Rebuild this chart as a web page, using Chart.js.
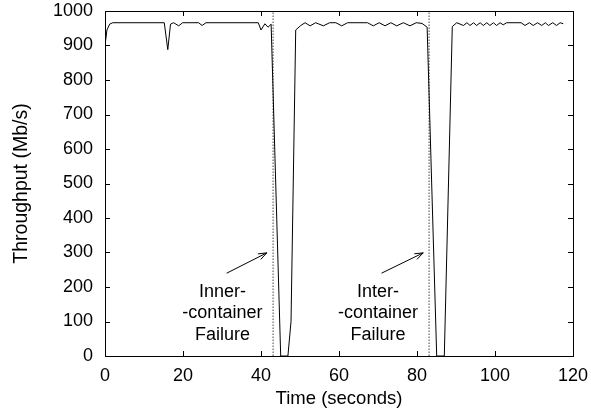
<!DOCTYPE html>
<html>
<head>
<meta charset="utf-8">
<script src="https://cdn.jsdelivr.net/npm/chart.js@4.4.0/dist/chart.umd.min.js"></script>
<style>
html,body{margin:0;padding:0;background:#fff;}
canvas{display:block;}
</style>
</head>
<body>
<canvas id="c" width="591" height="416"></canvas>
<script>
// ---- data ----
const timeSec = [0,0.5,1.2,2,15.2,16.1,16.8,17.6,18.9,19.9,24,24.9,25.9,39.3,40.0,41.0,41.8,42.6,45.05,
  46.9,47.7,48.9,50.2,51.3,52.6,54,56,57.6,59.2,60.7,62.2,67.3,68.8,70.3,71.8,73.3,74.8,76.5,78.2,79.8,81.3,82.6,85.05,
  87,89.05,90.2,91.9,92.8,93.6,94.5,95.3,96.2,97,97.9,98.7,99.6,100.4,101.3,102.1,103,106.7,107.7,108.8,109.8,110.9,112,112.9,113.7,114.8,115.8,116.7,117.5];
const throughput = [900,945,962,966,966,888,962,966,957,966,966,958,966,966,945,963,953,962,0,
  0,100,945,958,966,957,966,957,966,966,957,966,966,957,966,957,966,957,966,957,966,964,953,0,
  0,955,966,958,966,958,966,958,966,958,966,958,966,958,966,960,966,966,958,966,958,966,958,966,958,966,958,966,963];
const failureTimes = [43.1, 83.1];
const xTicks = [0,20,40,60,80,100,120];
const yTicks = [0,100,200,300,400,500,600,700,800,900,1000];
const annotations = [
  {lines:["Inner-","-container","Failure"], x:30.1, arrowFrom:[31.2,240], arrowTo:[41.5,299]},
  {lines:["Inter-","-container","Failure"], x:70.0, arrowFrom:[70.9,240], arrowTo:[81.6,299]}
];
const lineValues = [171,109,46];

const FONT = '"Liberation Sans", Arial, sans-serif';
const FS = 18;

const framePlugin = {
  id:'frame',
  afterDraw(chart){
    const ctx = chart.ctx, a = chart.chartArea;
    const xs = chart.scales.x, ys = chart.scales.y;
    ctx.save();
    ctx.strokeStyle = '#000';
    ctx.lineWidth = 1;
    ctx.strokeRect(Math.round(a.left)+0.5, Math.round(a.top)+0.5, Math.round(a.right-a.left), Math.round(a.bottom-a.top));
    const tl = 5;
    ctx.beginPath();
    xTicks.forEach(v=>{
      const px = Math.round(xs.getPixelForValue(v))+0.5;
      ctx.moveTo(px,a.bottom); ctx.lineTo(px,a.bottom-tl);
      ctx.moveTo(px,a.top); ctx.lineTo(px,a.top+tl);
    });
    yTicks.forEach(v=>{
      const py = Math.round(ys.getPixelForValue(v))+0.5;
      ctx.moveTo(a.left,py); ctx.lineTo(a.left+tl,py);
      ctx.moveTo(a.right,py); ctx.lineTo(a.right-tl,py);
    });
    ctx.stroke();
    // annotations
    ctx.fillStyle = '#000';
    ctx.font = FS + 'px ' + FONT;
    ctx.textAlign = 'center';
    ctx.textBaseline = 'alphabetic';
    annotations.forEach(an=>{
      an.lines.forEach((t,i)=>{
        ctx.fillText(t, xs.getPixelForValue(an.x), ys.getPixelForValue(lineValues[i]));
      });
      const x1 = xs.getPixelForValue(an.arrowFrom[0]), y1 = ys.getPixelForValue(an.arrowFrom[1]);
      const x2 = xs.getPixelForValue(an.arrowTo[0]), y2 = ys.getPixelForValue(an.arrowTo[1]);
      ctx.beginPath();
      ctx.moveTo(x1,y1); ctx.lineTo(x2,y2);
      const ang = Math.atan2(y2-y1,x2-x1), L = 9, w = 0.35;
      ctx.moveTo(x2 - L*Math.cos(ang-w), y2 - L*Math.sin(ang-w));
      ctx.lineTo(x2,y2);
      ctx.lineTo(x2 - L*Math.cos(ang+w), y2 - L*Math.sin(ang+w));
      ctx.stroke();
    });
    ctx.restore();
  }
};

const seriesPoints = timeSec.map((t,i)=>({x:t,y:throughput[i]}));
const failureSets = failureTimes.map(t=>({
  data:[{x:t,y:0},{x:t,y:1000}],
  borderColor:'#444', borderWidth:1, borderDash:[1.5,1.5], pointRadius:0, tension:0
}));

new Chart(document.getElementById('c'),{
  type:'line',
  data:{datasets:[
    {data:seriesPoints, borderColor:'#000', borderWidth:1, pointRadius:0, tension:0},
    ...failureSets
  ]},
  options:{
    responsive:false, animation:false, devicePixelRatio:1,
    layout:{padding:{top:11,right:18,left:0,bottom:0}},
    plugins:{legend:{display:false}, tooltip:{enabled:false}},
    scales:{
      x:{type:'linear', min:0, max:120,
        afterBuildTicks(s){ s.ticks = xTicks.map(v=>({value:v})); },
        afterFit(s){ s.height = 60; s.paddingLeft = 0; s.paddingRight = 0; },
        grid:{display:false, drawTicks:false}, border:{display:false},
        ticks:{color:'#000', font:{family:FONT,size:FS}, padding:9, maxRotation:0, autoSkip:false, callback:v=>String(v)},
        title:{display:true, text:'Time (seconds)', color:'#000', font:{family:FONT,size:18.5}, padding:{top:0,bottom:6}}
      },
      y:{type:'linear', min:0, max:1000,
        afterBuildTicks(s){ s.ticks = yTicks.map(v=>({value:v})); },
        afterFit(s){ s.width = 105; s.paddingTop = 0; s.paddingBottom = 0; },
        grid:{display:false, drawTicks:false}, border:{display:false},
        ticks:{color:'#000', font:{family:FONT,size:FS}, padding:12, autoSkip:false, callback:v=>String(v)},
        title:{display:true, text:'Throughput (Mb/s)', color:'#000', font:{family:FONT,size:19.5}, padding:{top:10,bottom:0}}
      }
    }
  },
  plugins:[framePlugin]
});
</script>
</body>
</html>
